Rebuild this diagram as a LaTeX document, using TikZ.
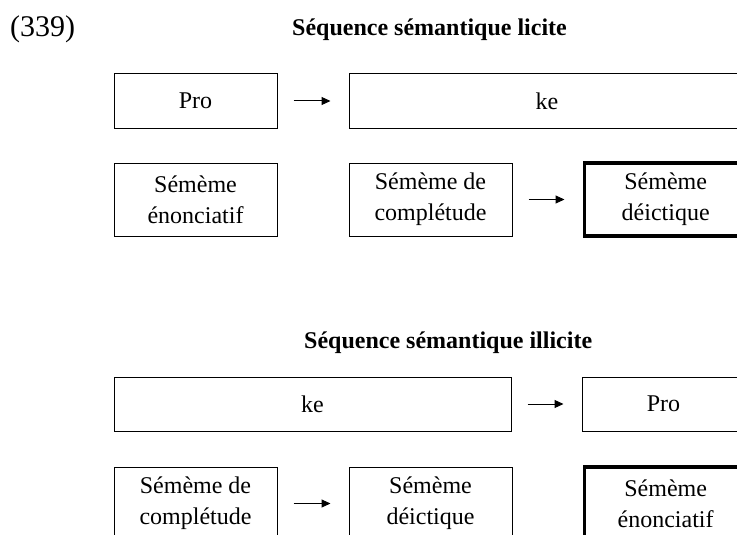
\documentclass[tikz,border=0pt]{standalone}
\usepackage{fontspec}
\setmainfont{Liberation Serif}
\usetikzlibrary{positioning,arrows.meta}

\begin{document}
\begin{tikzpicture}[
  x=1pt, y=1pt,
  font=\fontsize{24}{31}\selectfont,
  box/.style={draw, line width=1pt, inner sep=0pt, align=center,
              minimum width=163pt, minimum height=54pt},
  tall/.style={box, minimum height=73pt},
  wide/.style={box, minimum width=397pt},
  heavy/.style={tall, line width=3.3pt},
  link/.style={-{Triangle[length=9pt,width=8pt]}, line width=1pt,
               shorten <=16pt, shorten >=18pt},
  seqcap/.style={font=\fontsize{24}{28}\selectfont\bfseries, anchor=base west, inner sep=0pt},
]
\useasboundingbox (0,0) rectangle (737,-535);
\clip (0,0) rectangle (737,-535);
\node[anchor=base west, inner sep=0pt, font=\fontsize{30}{34}\selectfont] (exnum) at (10,-37) {(339)};
% ---------- sequence licite ----------
\node[seqcap] (cap1) at (292,-36) {Séquence sémantique licite};
\node[box] (pro1) at (195.5,-101) {Pro};
\node[wide, minimum width=396pt, right=71pt of pro1] (ke1) {ke};
\node[tall] (enon1) at (195.5,-199.5) {Sémème\\énonciatif};
\node[tall, right=71pt of enon1] (compl1) {Sémème de\\complétude};
\node[heavy, right=70pt of compl1] (deic1) {Sémème\\déictique};
\draw[link] (pro1) -- (ke1);
\draw[link] (compl1) -- (deic1);
% ---------- sequence illicite ----------
\node[seqcap] (cap2) at (304,-348) {Séquence sémantique illicite};
\node[wide] (ke2) at (312.5,-404) {ke};
\node[box, right=70pt of ke2] (pro2) {Pro};
\node[tall] (compl2) at (195.5,-503.5) {Sémème de\\complétude};
\node[tall, right=71pt of compl2] (deic2) {Sémème\\déictique};
\node[heavy, right=70pt of deic2] (enon2) {Sémème\\énonciatif};
\draw[link] (ke2) -- (pro2);
\draw[link] (compl2) -- (deic2);
\end{tikzpicture}
\end{document}
